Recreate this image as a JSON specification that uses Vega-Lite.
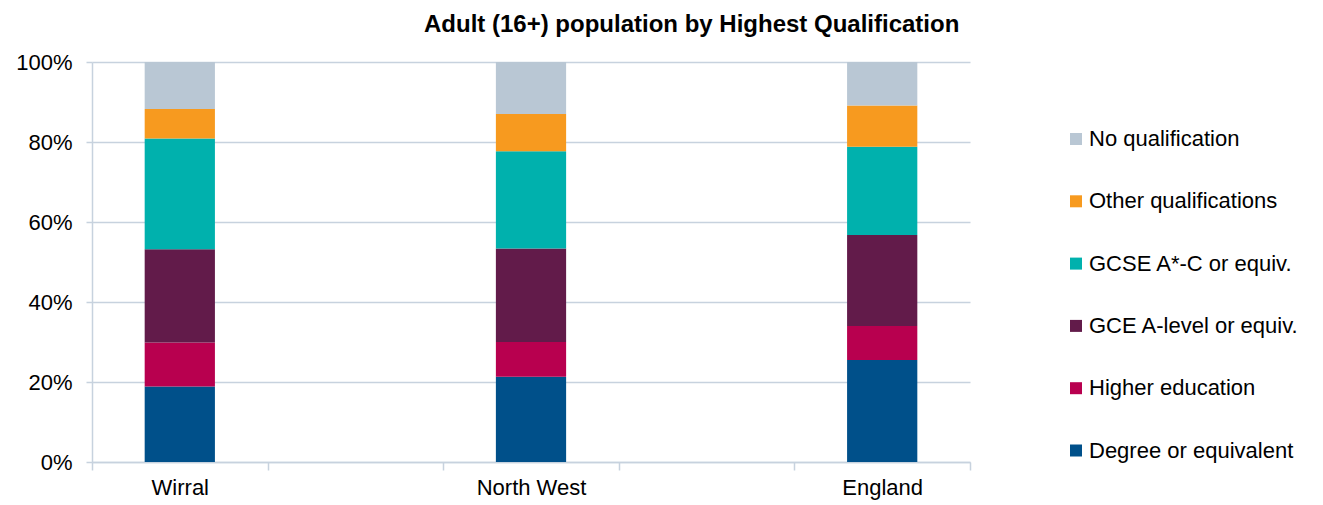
{
  "$schema": "https://vega.github.io/schema/vega-lite/v6.json",
  "width": 878,
  "height": 400,
  "autosize": {"type": "none"},
  "padding": {"left": 92, "top": 62, "right": 353, "bottom": 43},
  "background": "white",
  "title": {
    "text": "Adult (16+) population by Highest Qualification",
    "font": "Liberation Sans",
    "fontSize": 24,
    "fontWeight": "bold",
    "color": "#000000",
    "anchor": "start",
    "frame": "group",
    "dx": 332,
    "baseline": "alphabetic",
    "offset": 21,
    "dy": 26
  },
  "data": {
    "values": [
      {"area": "Wirral", "qualification": "Degree or equivalent", "rank": 1, "pct": 18.9},
      {"area": "Wirral", "qualification": "Higher education", "rank": 2, "pct": 11.0},
      {"area": "Wirral", "qualification": "GCE A-level or equiv.", "rank": 3, "pct": 23.3},
      {"area": "Wirral", "qualification": "GCSE A*-C or equiv.", "rank": 4, "pct": 27.7},
      {"area": "Wirral", "qualification": "Other qualifications", "rank": 5, "pct": 7.35},
      {"area": "Wirral", "qualification": "No qualification", "rank": 6, "pct": 11.75},
      {"area": "North West", "qualification": "Degree or equivalent", "rank": 1, "pct": 21.3},
      {"area": "North West", "qualification": "Higher education", "rank": 2, "pct": 8.7},
      {"area": "North West", "qualification": "GCE A-level or equiv.", "rank": 3, "pct": 23.4},
      {"area": "North West", "qualification": "GCSE A*-C or equiv.", "rank": 4, "pct": 24.3},
      {"area": "North West", "qualification": "Other qualifications", "rank": 5, "pct": 9.3},
      {"area": "North West", "qualification": "No qualification", "rank": 6, "pct": 13.0},
      {"area": "England", "qualification": "Degree or equivalent", "rank": 1, "pct": 25.5},
      {"area": "England", "qualification": "Higher education", "rank": 2, "pct": 8.5},
      {"area": "England", "qualification": "GCE A-level or equiv.", "rank": 3, "pct": 22.75},
      {"area": "England", "qualification": "GCSE A*-C or equiv.", "rank": 4, "pct": 22.05},
      {"area": "England", "qualification": "Other qualifications", "rank": 5, "pct": 10.3},
      {"area": "England", "qualification": "No qualification", "rank": 6, "pct": 10.9}
    ]
  },
  "mark": {"type": "bar", "width": {"band": 0.4}},
  "encoding": {
    "x": {
      "field": "area",
      "type": "nominal",
      "scale": {"domain": ["Wirral", " ", "North West", "  ", "England"], "paddingInner": 0, "paddingOuter": 0},
      "axis": {
        "title": null,
        "labelAngle": 0,
        "tickBand": "extent",
        "ticks": true,
        "tickSize": 8,
        "tickColor": "#c7d2de",
        "tickWidth": 1.5,
        "domainColor": "#c7d2de",
        "domainWidth": 1.5,
        "grid": false,
        "labelFont": "Liberation Sans",
        "labelFontSize": 22,
        "labelColor": "#000000",
        "labelPadding": 7
      }
    },
    "y": {
      "field": "pct",
      "type": "quantitative",
      "stack": "normalize",
      "scale": {"domain": [0, 1]},
      "axis": {
        "title": null,
        "format": ".0%",
        "values": [0, 0.2, 0.4, 0.6, 0.8, 1],
        "tickSize": 6,
        "tickColor": "#c7d2de",
        "tickWidth": 1.5,
        "domainColor": "#c7d2de",
        "domainWidth": 1.5,
        "grid": true,
        "gridColor": "#c7d2de",
        "gridWidth": 1.5,
        "labelFont": "Liberation Sans",
        "labelFontSize": 22,
        "labelColor": "#000000",
        "labelPadding": 14
      }
    },
    "color": {
      "field": "qualification",
      "type": "nominal",
      "scale": {
        "domain": ["No qualification", "Other qualifications", "GCSE A*-C or equiv.", "GCE A-level or equiv.", "Higher education", "Degree or equivalent"],
        "range": ["#b9c7d4", "#f79a1f", "#00b1ad", "#621b4a", "#b8004f", "#00508a"]
      },
      "legend": {
        "title": null,
        "orient": "none",
        "legendX": 973,
        "legendY": 66,
        "symbolType": "square",
        "symbolSize": 144,
        "symbolStrokeWidth": 0,
        "labelFont": "Liberation Sans",
        "labelFontSize": 22,
        "labelColor": "#000000",
        "labelOffset": 2,
        "labelLimit": 0,
        "rowPadding": 40.3,
        "padding": 0
      }
    },
    "order": {"field": "rank", "type": "quantitative", "sort": "ascending"}
  },
  "config": {
    "view": {"stroke": null},
    "axis": {"labelOverlap": false}
  }
}
